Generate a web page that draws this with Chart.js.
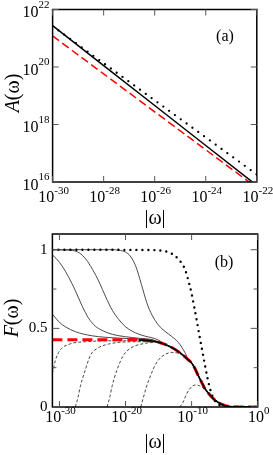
<!DOCTYPE html>
<html>
<head>
<meta charset="utf-8">
<script src="https://cdn.jsdelivr.net/npm/chart.js@4"></script>
<style>
    html, body { margin: 0; padding: 0; background: #fff; }
    #wrap { position: relative; width: 273px; height: 455px; }
    canvas { position: absolute; left: 0; }
    #chartA { top: 0; }
    #chartF { top: 228px; }
</style>
</head>
<body>
<div id="wrap">
    <canvas id="chartA" width="273" height="228"></canvas>
    <canvas id="chartF" width="273" height="227"></canvas>
</div>
<script>
// painel (a): expoentes de |w| e de A(w)
const expTopo = [-30, -28, -26, -24, -22];
const aSolida = [21.44, 20.05, 18.66, 17.27, 15.88];
const aPontos = [21.42, 20.13, 18.84, 17.55, 16.26];
const aVermelha = [21.08, 19.76, 18.44, 17.12, 15.80];

const ticksXTopo = [-30, -28, -26, -24, -22];
const ticksYTopo = [16, 18, 20, 22];

// painel (b): curvas F(w), x em expoente de 10
const caudaExp = [-18, -16, -15, -14, -13, -12, -11.3, -10.5, -10, -9.5, -9, -8.5, -8, -7.5, -7, -6.5, -6, -5.5, -5, -4.5, -4, -3, 0];
const caudaF   = [0.427, 0.42, 0.412, 0.398, 0.378, 0.352, 0.33, 0.30, 0.28, 0.245, 0.2, 0.158, 0.118, 0.09, 0.065, 0.045, 0.03, 0.018, 0.01, 0.005, 0.002, 0, 0];

const vermExp = [-31.07, -22, -20];
const vermF   = [0.428, 0.428, 0.428];

const solAExp = [-31.07, -22, -21, -20, -19.3, -18.5, -17.6, -16.8, -16, -15, -14, -13, -12, -11];
const solAF   = [1, 1, 0.997, 0.985, 0.96, 0.9, 0.78, 0.665, 0.585, 0.52, 0.48, 0.448, 0.41, 0.345];
const solBExp = [-31.07, -28, -27, -26, -25, -24, -23, -22, -21, -20, -19, -18, -17, -16, -15];
const solBF   = [1, 0.995, 0.98, 0.94, 0.875, 0.795, 0.70, 0.615, 0.555, 0.51, 0.482, 0.463, 0.45, 0.44, 0.425];
const solCExp = [-31.07, -30.5, -29.5, -28.6, -27.6, -26.6, -25.6, -24.6, -23.6, -22, -20, -18, -16];
const solCF   = [0.966, 0.945, 0.89, 0.825, 0.74, 0.645, 0.565, 0.515, 0.488, 0.462, 0.447, 0.437, 0.428];
const solDExp = [-31.07, -30.1, -29.1, -27.6, -25.1, -21, -18, -16];
const solDF   = [0.591, 0.542, 0.51, 0.479, 0.453, 0.438, 0.432, 0.426];

const tracEExp = [-31.07, -30.6, -29.9, -28.6, -26.1, -21, -18, -16];
const tracEF   = [0.214, 0.299, 0.362, 0.398, 0.415, 0.421, 0.42, 0.415];
const tracFExp = [-27.6, -27.2, -26.85, -26.1, -25.3, -24.3, -22.6, -18.5, -16];
const tracFF   = [0, 0.06, 0.13, 0.235, 0.33, 0.372, 0.40, 0.415, 0.415];
const tracGExp = [-22.8, -22.4, -22.05, -21.3, -20.3, -19.0, -17.0, -16];
const tracGF   = [0, 0.06, 0.13, 0.235, 0.33, 0.38, 0.405, 0.41];
const tracHExp = [-17.7, -17.3, -16.9, -16.3, -15.6, -15.0, -14.0, -13.0, -12.0, -11.0];
const tracHF   = [0, 0.06, 0.12, 0.19, 0.26, 0.30, 0.335, 0.347, 0.342, 0.318];
const tracIExp = [-11.8, -11.3, -10.8, -10.3, -9.8, -9.3, -8.8, -8.3, -7.9];
const tracIF   = [0, 0.03, 0.08, 0.115, 0.135, 0.14, 0.135, 0.122, 0.105];

const pontExp = [-31.07, -16, -14, -13, -12, -11, -10.4, -10, -9.6, -9.2, -8.8, -8.4, -8, -7.6, -7.2, -6.8, -6.4, -6, -5.5, -5, -4, 0];
const pontF   = [1, 0.998, 0.99, 0.975, 0.94, 0.875, 0.79, 0.72, 0.635, 0.545, 0.45, 0.36, 0.27, 0.185, 0.115, 0.065, 0.035, 0.018, 0.008, 0.003, 0, 0];

const ticksXBase = [-30, -20, -10, 0];
const ticksYBase = [0, 0.5, 1];
const ticksYBaseMenor = [0.25, 0.75];

const fonte = '"Liberation Serif", "DejaVu Serif", serif';
const cinza = '#4a4a4a';

function pares(exps, vals) {
    return exps.map((e, i) => ({ x: Math.pow(10, e), y: vals[i] }));
}

function paresLog(exps, vals) {
    return exps.map((e, i) => ({ x: Math.pow(10, e), y: Math.pow(10, vals[i]) }));
}

// curva propria + cauda comum depois do ponto de encontro
function comCauda(exps, vals) {
    const ultimo = exps[exps.length - 1];
    const pts = pares(exps, vals);
    caudaExp.forEach((e, i) => {
        if (e > ultimo + 0.2) pts.push({ x: Math.pow(10, e), y: caudaF[i] });
    });
    return pts;
}

function desenhaPot(ctx, exp, x, yBase, yExp, alinhamento) {
    ctx.save();
    ctx.fillStyle = '#000';
    ctx.textBaseline = 'middle';
    ctx.textAlign = 'left';
    ctx.font = '16px ' + fonte;
    const wb = ctx.measureText('10').width;
    ctx.font = '11px ' + fonte;
    const txtExp = String(exp);
    const we = ctx.measureText(txtExp).width;
    const x0 = alinhamento === 'direita' ? x - wb - we : x - (wb + we) / 2;
    ctx.font = '16px ' + fonte;
    ctx.fillText('10', x0, yBase);
    ctx.font = '11px ' + fonte;
    ctx.fillText(txtExp, x0 + wb, yExp);
    ctx.restore();
}

function desenhaTitulo(ctx, italico, resto, x, y, rot) {
    ctx.save();
    ctx.translate(x, y);
    if (rot) ctx.rotate(-Math.PI / 2);
    ctx.fillStyle = '#000';
    ctx.textBaseline = 'middle';
    ctx.textAlign = 'left';
    ctx.font = 'italic 20px ' + fonte;
    const w1 = italico ? ctx.measureText(italico).width : 0;
    ctx.font = '20px ' + fonte;
    const w2 = ctx.measureText(resto).width;
    const x0 = -(w1 + w2) / 2;
    if (italico) {
        ctx.font = 'italic 20px ' + fonte;
        ctx.fillText(italico, x0, 0);
    }
    ctx.font = '20px ' + fonte;
    ctx.fillText(resto, x0 + w1, 0);
    ctx.restore();
}

function moldura(ctx, a) {
    ctx.save();
    ctx.strokeStyle = '#000';
    ctx.lineWidth = 1.5;
    ctx.strokeRect(a.left, a.top, a.right - a.left, a.bottom - a.top);
    ctx.restore();
}

function tick(ctx, x1, y1, x2, y2) {
    ctx.beginPath();
    ctx.moveTo(x1, y1);
    ctx.lineTo(x2, y2);
    ctx.stroke();
}

function rotuloPainel(ctx, txt, x, y) {
    ctx.save();
    ctx.font = '16px ' + fonte;
    ctx.fillStyle = '#000';
    ctx.textAlign = 'center';
    ctx.textBaseline = 'middle';
    ctx.fillText(txt, x, y);
    ctx.restore();
}

const eixosTopo = {
    id: 'eixosTopo',
    afterDatasetsDraw(chart) {
        const ctx = chart.ctx;
        const a = chart.chartArea;
        const sx = chart.scales.x, sy = chart.scales.y;
        moldura(ctx, a);
        ctx.save();
        ctx.strokeStyle = '#555';
        ctx.lineWidth = 1;
        ticksXTopo.forEach(e => {
            const px = sx.getPixelForValue(Math.pow(10, e));
            tick(ctx, px, a.bottom, px, a.bottom - 6);
            tick(ctx, px, a.top, px, a.top + 6);
        });
        ticksYTopo.forEach(e => {
            const py = sy.getPixelForValue(Math.pow(10, e));
            tick(ctx, a.left, py, a.left + 6, py);
            tick(ctx, a.right, py, a.right - 6, py);
        });
        ctx.restore();
        ticksXTopo.forEach(e => {
            const px = sx.getPixelForValue(Math.pow(10, e));
            desenhaPot(ctx, e, px + 1, a.bottom + 15.5, a.bottom + 9.5, 'centro');
        });
        ticksYTopo.forEach(e => {
            const py = sy.getPixelForValue(Math.pow(10, e));
            desenhaPot(ctx, e, 49.5, py + 3.5, py - 4.5, 'direita');
        });
        desenhaTitulo(ctx, '', '|\u03c9|', 155, 219, false);
        desenhaTitulo(ctx, 'A', '(\u03c9)', 14, 93, true);
        rotuloPainel(ctx, '(a)', 225, 37);
    }
};

const eixosBase = {
    id: 'eixosBase',
    afterDatasetsDraw(chart) {
        const ctx = chart.ctx;
        const a = chart.chartArea;
        const sx = chart.scales.x, sy = chart.scales.y;
        moldura(ctx, a);
        ctx.save();
        ctx.strokeStyle = '#555';
        ctx.lineWidth = 1;
        ticksXBase.forEach(e => {
            const px = sx.getPixelForValue(Math.pow(10, e));
            tick(ctx, px, a.bottom, px, a.bottom - 6);
            tick(ctx, px, a.top, px, a.top + 6);
        });
        ticksYBase.forEach(v => {
            const py = sy.getPixelForValue(v);
            tick(ctx, a.left, py, a.left + 7, py);
            tick(ctx, a.right, py, a.right - 7, py);
        });
        ticksYBaseMenor.forEach(v => {
            const py = sy.getPixelForValue(v);
            tick(ctx, a.left, py, a.left + 4, py);
            tick(ctx, a.right, py, a.right - 4, py);
        });
        ctx.restore();
        ticksXBase.forEach(e => {
            const px = sx.getPixelForValue(Math.pow(10, e));
            desenhaPot(ctx, e, px + 1, a.bottom + 11, a.bottom + 4.5, 'centro');
        });
        ctx.save();
        ctx.font = '15px ' + fonte;
        ctx.fillStyle = '#000';
        ctx.textAlign = 'right';
        ctx.textBaseline = 'middle';
        ticksYBase.forEach(v => {
            ctx.fillText(String(v), 47.5, sy.getPixelForValue(v));
        });
        ctx.restore();
        rotuloPainel(ctx, '(b)', 224, 262.5 - 228);
        desenhaTitulo(ctx, '', '|\u03c9|', 155, 443 - 228, false);
        desenhaTitulo(ctx, 'F', '(\u03c9)', 13, 318 - 228, true);
    }
};

function opcoesBase(padding, escalas) {
    return {
        responsive: false,
        animation: false,
        devicePixelRatio: 1,
        layout: { padding: padding },
        plugins: { legend: { display: false }, tooltip: { enabled: false } },
        elements: { point: { radius: 0 } },
        scales: escalas
    };
}

new Chart(document.getElementById('chartA').getContext('2d'), {
    type: 'line',
    data: {
        datasets: [
            { data: paresLog(expTopo, aPontos), borderColor: '#000', borderWidth: 2.3,
              borderDash: [0, 7.2], borderCapStyle: 'round', order: 1 },
            { data: paresLog(expTopo, aSolida), borderColor: '#000', borderWidth: 1.5, order: 2 },
            { data: paresLog(expTopo, aVermelha), borderColor: '#ff0000', borderWidth: 1.5,
              borderDash: [8, 4], order: 3 }
        ]
    },
    options: opcoesBase({ left: 52.6, right: 16.2, top: 9.5, bottom: 46 }, {
        x: { type: 'logarithmic', display: false, min: 1e-30, max: 1e-22 },
        y: { type: 'logarithmic', display: false, min: 1e16, max: 1e22 }
    }),
    plugins: [eixosTopo]
});

const estiloSolido = { borderColor: cinza, borderWidth: 1, cubicInterpolationMode: 'monotone', order: 5 };
const estiloTracejado = { borderColor: cinza, borderWidth: 1, borderDash: [3, 2], cubicInterpolationMode: 'monotone', order: 5 };

new Chart(document.getElementById('chartF').getContext('2d'), {
    type: 'line',
    data: {
        datasets: [
            { data: pares(pontExp, pontF), borderColor: '#000', borderWidth: 2.4, borderDash: [0, 6],
              borderCapStyle: 'round', cubicInterpolationMode: 'monotone', order: 1 },
            { data: pares(caudaExp, caudaF), borderColor: '#000', borderWidth: 1.6,
              cubicInterpolationMode: 'monotone', order: 2 },
            { data: comCauda(vermExp, vermF), borderColor: '#ff0000', borderWidth: 3, borderDash: [10, 5],
              cubicInterpolationMode: 'monotone', order: 3 },
            Object.assign({ data: comCauda(solAExp, solAF) }, estiloSolido),
            Object.assign({ data: comCauda(solBExp, solBF) }, estiloSolido),
            Object.assign({ data: comCauda(solCExp, solCF) }, estiloSolido),
            Object.assign({ data: comCauda(solDExp, solDF) }, estiloSolido),
            Object.assign({ data: comCauda(tracEExp, tracEF) }, estiloTracejado),
            Object.assign({ data: comCauda(tracFExp, tracFF) }, estiloTracejado),
            Object.assign({ data: comCauda(tracGExp, tracGF) }, estiloTracejado),
            Object.assign({ data: comCauda(tracHExp, tracHF) }, estiloTracejado),
            Object.assign({ data: comCauda(tracIExp, tracIF) }, estiloTracejado)
        ]
    },
    options: opcoesBase({ left: 52.4, right: 15.3, top: 6, bottom: 48 }, {
        x: { type: 'logarithmic', display: false, min: Math.pow(10, -31.07), max: 1 },
        y: { type: 'linear', display: false, min: 0, max: 1.1 }
    }),
    plugins: [eixosBase]
});
</script>
</body>
</html>
